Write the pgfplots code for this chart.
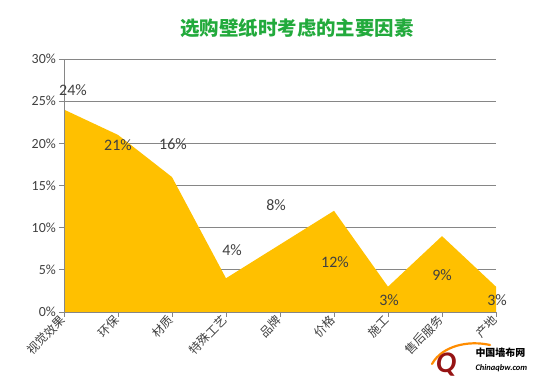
\documentclass[border=0pt]{standalone}
\usepackage{pgfplots}
\pgfplotsset{compat=1.18}
\usepackage{fontspec}
\setmainfont{Carlito}
\newfontfamily\cjk{Noto Sans CJK SC}
\definecolor{gold}{RGB}{255,192,0}
\definecolor{titlegreen}{RGB}{34,170,60}
\definecolor{gridgray}{RGB}{134,134,134}
\definecolor{txt}{RGB}{64,64,64}
\begin{document}
\begin{tikzpicture}
\useasboundingbox (0,0) rectangle (540bp,380bp);
\begin{axis}[
  at={(64bp,68bp)}, anchor=south west,
  scale only axis, width=432bp, height=253bp,
  xmin=0, xmax=8, ymin=0, ymax=30,
  axis x line=bottom, axis y line=left,
  axis line style={-, draw=gridgray, line width=0.8pt},
  xtick={0,...,8},
  xticklabels={视觉效果,环保,材质,特殊工艺,品牌,价格,施工,售后服务,产地},
  ytick={0,5,10,15,20,25,30},
  yticklabels={0\%,5\%,10\%,15\%,20\%,25\%,30\%},
  ymajorgrids, grid style={draw=gridgray, line width=0.8pt},
  tick align=outside, major tick length=5bp,
  tick style={draw=gridgray, line width=0.8pt},
  x tick label style={font=\cjk\fontsize{12}{13}\selectfont, text=txt, rotate=45, anchor=east, inner sep=1.5pt},
  y tick label style={font=\fontsize{14}{15}\selectfont, text=txt, inner sep=3pt},
  clip=false,
]
\addplot[fill=gold, draw=none] coordinates {
  (0,24) (1,21) (2,16) (3,4) (4,8) (5,12) (6,3) (7,9) (8,3)
} \closedcycle;
\draw[gridgray, line width=0.8pt] (axis cs:0,0) -- (axis cs:0,30);
\draw[gridgray, line width=0.8pt] (axis cs:0,0) -- (axis cs:8,0);
\tikzset{dl/.style={font=\fontsize{16}{17}\selectfont, text=txt, inner sep=0pt}}
\node[dl, xshift=9bp, yshift=19bp] at (axis cs:0,24) {24\%};
\node[dl, xshift=0bp, yshift=-10bp] at (axis cs:1,21) {21\%};
\node[dl, xshift=1bp, yshift=33bp] at (axis cs:2,16) {16\%};
\node[dl, xshift=6bp, yshift=28bp] at (axis cs:3,4) {4\%};
\node[dl, xshift=-4bp, yshift=39bp] at (axis cs:4,8) {8\%};
\node[dl, xshift=1bp, yshift=-51bp] at (axis cs:5,12) {12\%};
\node[dl, xshift=1bp, yshift=-13bp] at (axis cs:6,3) {3\%};
\node[dl, xshift=0bp, yshift=-39bp] at (axis cs:7,9) {9\%};
\node[dl, xshift=1bp, yshift=-13bp] at (axis cs:8,3) {3\%};
\end{axis}
\node[font=\cjk\bfseries\fontsize{19.5}{20}\selectfont, text=titlegreen] at (297bp,352bp) {选购壁纸时考虑的主要因素};
% watermark
\draw[orange!90!yellow, line width=2.2pt, line cap=round] (432bp,16bp) .. controls (442bp,34bp) and (468bp,40bp) .. (490bp,35bp);
\node[font=\itshape\bfseries\fontsize{30}{30}\selectfont, text={rgb,255:red,150;green,20;blue,20}] at (446bp,15bp) {Q};
\node[font=\cjk\bfseries\fontsize{10}{11}\selectfont, text=black, anchor=west] at (472bp,27bp) {中国墙布网};
\node[font=\itshape\bfseries\fontsize{8.5}{9}\selectfont, text=black, anchor=west] at (472bp,12bp) {Chinaqbw.com};
\end{tikzpicture}
\end{document}
